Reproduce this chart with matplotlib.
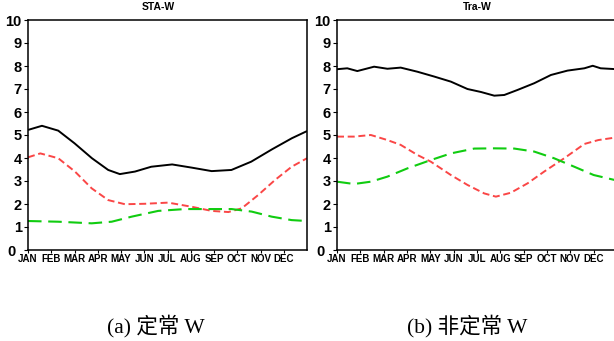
import matplotlib
matplotlib.use("Agg")
import matplotlib.pyplot as plt
import matplotlib.transforms as mtransforms

months = ["JAN", "FEB", "MAR", "APR", "MAY", "JUN", "JUL", "AUG", "SEP", "OCT", "NOV", "DEC"]
yticks = list(range(0, 11))

# STA-W panel
sta_black_x = [0, 0.6, 1.3, 2.0, 2.75, 3.45, 3.95, 4.6, 5.3, 6.2, 7.05, 7.9, 8.75, 9.6, 10.5, 11.35, 12]
sta_black_y = [5.22, 5.40, 5.19, 4.64, 3.99, 3.48, 3.30, 3.41, 3.62, 3.72, 3.58, 3.43, 3.48, 3.84, 4.38, 4.86, 5.17]
sta_red_x = [0, 0.53, 1.3, 2.02, 2.74, 3.45, 4.17, 5.03, 6.03, 7.04, 7.9, 8.62, 9.19, 9.9, 10.62, 11.34, 12]
sta_red_y = [4.03, 4.20, 3.99, 3.41, 2.68, 2.17, 1.99, 2.01, 2.06, 1.88, 1.70, 1.65, 1.81, 2.39, 3.04, 3.62, 3.99]
sta_green_x = [0, 1.3, 2.74, 3.6, 4.46, 5.6, 6.75, 7.9, 8.76, 9.62, 10.48, 11.34, 12]
sta_green_y = [1.26, 1.23, 1.16, 1.23, 1.45, 1.70, 1.78, 1.78, 1.78, 1.67, 1.45, 1.30, 1.26]

# Tra-W panel
tra_black_x = [0, 0.44, 0.87, 1.59, 2.16, 2.73, 3.45, 4.17, 4.88, 5.59, 6.17, 6.74, 7.17, 7.74, 8.45, 9.17, 9.88, 10.6, 10.96, 11.3, 12]
tra_black_y = [7.86, 7.90, 7.78, 7.97, 7.88, 7.93, 7.75, 7.54, 7.32, 7.00, 6.87, 6.71, 6.74, 6.96, 7.25, 7.61, 7.80, 7.90, 8.01, 7.90, 7.86]
tra_red_x = [0, 0.73, 1.45, 2.16, 2.73, 3.45, 4.02, 4.88, 5.59, 6.31, 6.81, 7.45, 8.17, 8.88, 9.74, 10.6, 11.2, 12]
tra_red_y = [4.93, 4.93, 5.00, 4.78, 4.57, 4.13, 3.84, 3.26, 2.83, 2.46, 2.32, 2.49, 2.90, 3.41, 3.99, 4.61, 4.78, 4.90]
tra_green_x = [0, 0.73, 1.45, 2.16, 3.02, 4.02, 4.88, 5.88, 6.74, 7.6, 8.45, 9.3, 10.17, 11.0, 12]
tra_green_y = [2.97, 2.87, 2.97, 3.19, 3.55, 3.91, 4.20, 4.41, 4.42, 4.41, 4.28, 3.99, 3.62, 3.26, 3.02]

titles = ["STA-W", "Tra-W"]
captions = ["(a) 定常 W", "(b) 非定常 W"]

W, H = 614, 341
fig = plt.figure(figsize=(W / 100, H / 100), dpi=100)

boldsans = ["Liberation Sans", "DejaVu Sans"]

def make_axes(x0, x1, y_top, y_bot):
    return fig.add_axes([x0 / W, (H - y_bot) / H, (x1 - x0) / W, (y_bot - y_top) / H])

ax1 = make_axes(28, 307, 20, 250)
ax2 = make_axes(337, 617, 20, 250)

panels = [
    (ax1, sta_black_x, sta_black_y, sta_red_x, sta_red_y, sta_green_x, sta_green_y),
    (ax2, tra_black_x, tra_black_y, tra_red_x, tra_red_y, tra_green_x, tra_green_y),
]

for ax, bx, by, rx, ry, gx, gy in panels:
    ax.plot(bx, by, color="black", lw=1.4, solid_capstyle="butt")
    ax.plot(rx, ry, color="#fa4646", lw=1.4, dashes=(3.6, 1.9))
    ax.plot(gx, gy, color="#10cc10", lw=1.5, dashes=(6.5, 3.2))
    ax.set_xlim(0, 12)
    ax.set_ylim(0, 10)
    ax.set_xticks(range(12))
    ax.set_xticklabels(months, fontfamily=boldsans, fontweight="bold", fontsize=7)
    ax.set_yticks(yticks)
    ax.set_yticklabels([str(v) for v in yticks], fontfamily=boldsans, fontweight="bold", fontsize=10.5)
    ax.tick_params(axis="x", direction="out", length=2.5, width=0.8, pad=0.5)
    ax.tick_params(axis="y", direction="out", length=3, width=0.8, pad=1.5)
    for s in ax.spines.values():
        s.set_linewidth(1.1)
        s.set_color("black")
    # shift the "0" label left so it clears the JAN label, as in the reference
    zero = ax.yaxis.get_major_ticks()[0].label1
    zero.set_transform(zero.get_transform() +
                       mtransforms.ScaledTranslation(-6 / 100, 0, fig.dpi_scale_trans))

fig.text(158 / W, 1 - 7.5 / H, titles[0], ha="center", va="center",
         fontfamily=boldsans, fontweight="bold", fontsize=7.5)
fig.text(477 / W, 1 - 7.5 / H, titles[1], ha="center", va="center",
         fontfamily=boldsans, fontweight="bold", fontsize=7.5)

cap_family = ["Liberation Serif", "Noto Sans CJK SC"]
fig.text(155.5 / W, 1 - 326 / H, captions[0], ha="center", va="center",
         fontfamily=cap_family, fontsize=15.5)
fig.text(467 / W, 1 - 326 / H, captions[1], ha="center", va="center",
         fontfamily=cap_family, fontsize=15.5)

fig.savefig("out.png", dpi=100, facecolor="white")
